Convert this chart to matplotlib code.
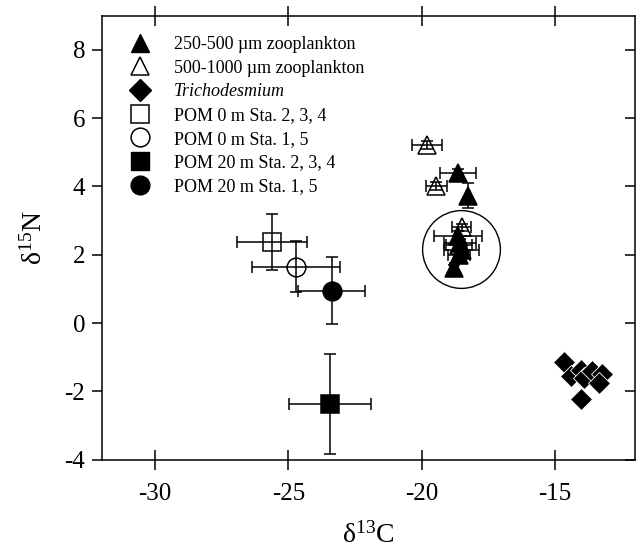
#!/usr/bin/env python
# -*- coding: utf-8 -*-

# == INCLUDE ==
import matplotlib
matplotlib.use("Agg")
import matplotlib.pyplot as plt
from matplotlib.lines import Line2D

# == CONFIG ==
plt.rcParams['font.family'] = ['Liberation Serif', 'DejaVu Serif']
plt.rcParams['mathtext.fontset'] = 'custom'
plt.rcParams['mathtext.rm'] = 'Liberation Serif'
plt.rcParams['mathtext.it'] = 'Liberation Serif:italic'

# == DATA ==
# 250-500 um zooplankton (filled triangles)
zoo_small_c = [-18.65, -18.25, -18.63, -18.55, -18.50, -18.60, -18.80]
zoo_small_n = [4.40, 3.73, 2.55, 2.35, 2.15, 2.00, 1.60]
zoo_small_c_err = [0.67, 0.05, 0.90, 0.60, 0.65, 0.40, 0.15]
zoo_small_n_err = [0.10, 0.37, 0.15, 0.10, 0.10, 0.10, 0.10]

# 500-1000 um zooplankton (open triangles)
zoo_large_c = [-19.80, -19.45, -18.50, -18.60]
zoo_large_n = [5.20, 4.02, 2.80, 2.30]
zoo_large_c_err = [0.55, 0.40, 0.35, 0.50]
zoo_large_n_err = [0.12, 0.12, 0.10, 0.10]

# Trichodesmium (diamonds)
tricho_c = [-14.66, -14.40, -14.02, -13.90, -13.60, -13.24, -13.35, -14.02]
tricho_n = [-1.13, -1.54, -1.37, -1.60, -1.40, -1.48, -1.74, -2.22]

# POM samples: d13C, d15N and their errors
pom_labels = ['POM 0 m Sta. 2, 3, 4', 'POM 0 m Sta. 1, 5',
              'POM 20 m Sta. 2, 3, 4', 'POM 20 m Sta. 1, 5']
pom_c = [-25.60, -24.70, -23.45, -23.38]
pom_n = [2.38, 1.65, -2.36, 0.95]
pom_c_err = [1.31, 1.65, 1.53, 1.25]
pom_n_err = [0.82, 0.75, 1.46, 0.97]

# Circle around the zooplankton cluster
cluster_c = -18.52
cluster_n = 2.18

legend_labels = ['250-500 \u00b5m zooplankton', '500-1000 \u00b5m zooplankton',
                 'Trichodesmium'] + pom_labels

# == PLOT ==
fig = plt.figure(figsize=(6.44, 5.54), dpi=100)
ax = fig.add_axes([0.158, 0.170, 0.828, 0.802])

eb = dict(ecolor='black', elinewidth=1.1, capsize=4.5, capthick=1.1,
          linestyle='none', ms=13.5, mew=1.1)

ax.errorbar(zoo_large_c, zoo_large_n, xerr=zoo_large_c_err, yerr=zoo_large_n_err,
            marker='^', mfc='none', mec='black', **eb)
ax.errorbar(zoo_small_c, zoo_small_n, xerr=zoo_small_c_err, yerr=zoo_small_n_err,
            marker='^', mfc='black', mec='black', **eb)

pom_styles = [('s', 'none'), ('o', 'none'), ('s', 'black'), ('o', 'black')]
for i, (mk, fc) in enumerate(pom_styles):
    ax.errorbar(pom_c[i], pom_n[i], xerr=pom_c_err[i], yerr=pom_n_err[i],
                marker=mk, mfc=fc, mec='black', **eb)

ax.plot(tricho_c, tricho_n, linestyle='none', marker='D', ms=11.5,
        mfc='black', mec='white', mew=0.6)

ax.plot(cluster_c, cluster_n, marker='o', ms=56, mfc='none', mec='black',
        mew=1.0, linestyle='none')

ax.set_xlim(-32, -12)
ax.set_ylim(-4, 9)
ax.set_xticks([-30, -25, -20, -15])
ax.set_yticks([-4, -2, 0, 2, 4, 6, 8])
ax.set_xticklabels(['-30', '-25', '-20', '-15'])
ax.set_yticklabels(['-4', '-2', '0', '2', '4', '6', '8'])

for s in ax.spines.values():
    s.set_linewidth(1.1)
ax.tick_params(axis='x', which='both', direction='inout', length=14, width=1.1,
               labelsize=18, top=True, pad=10)
ax.tick_params(axis='y', which='both', direction='out', length=7, width=1.1,
               labelsize=18, right=True, pad=5)
ax.tick_params(axis='y', which='both', right=True, labelright=False)
for t in ax.yaxis.get_ticklines()[1::2]:
    t.set_marker(0)

ax.set_xlabel('\u03b4$^{13}$C', fontsize=20, labelpad=12)
ax.set_ylabel('\u03b4$^{15}$N', fontsize=20, labelpad=12)

handles = [
    Line2D([], [], ls='none', marker='^', ms=13.5, mfc='black', mec='black'),
    Line2D([], [], ls='none', marker='^', ms=13.5, mfc='none', mec='black', mew=1.1),
    Line2D([], [], ls='none', marker='D', ms=11.5, mfc='black', mec='black'),
    Line2D([], [], ls='none', marker='s', ms=13.5, mfc='none', mec='black', mew=1.1),
    Line2D([], [], ls='none', marker='o', ms=13.5, mfc='none', mec='black', mew=1.1),
    Line2D([], [], ls='none', marker='s', ms=13.5, mfc='black', mec='black'),
    Line2D([], [], ls='none', marker='o', ms=13.5, mfc='black', mec='black'),
]
leg = ax.legend(handles, legend_labels, loc='upper left', bbox_to_anchor=(0.006, 1.0),
                frameon=False, fontsize=13, labelspacing=0.37, handlelength=1.6,
                handletextpad=1.1, borderpad=0.83, borderaxespad=0.3)
leg.get_texts()[2].set_style('italic')

fig.savefig('out.png', dpi=100)
# EOF .
